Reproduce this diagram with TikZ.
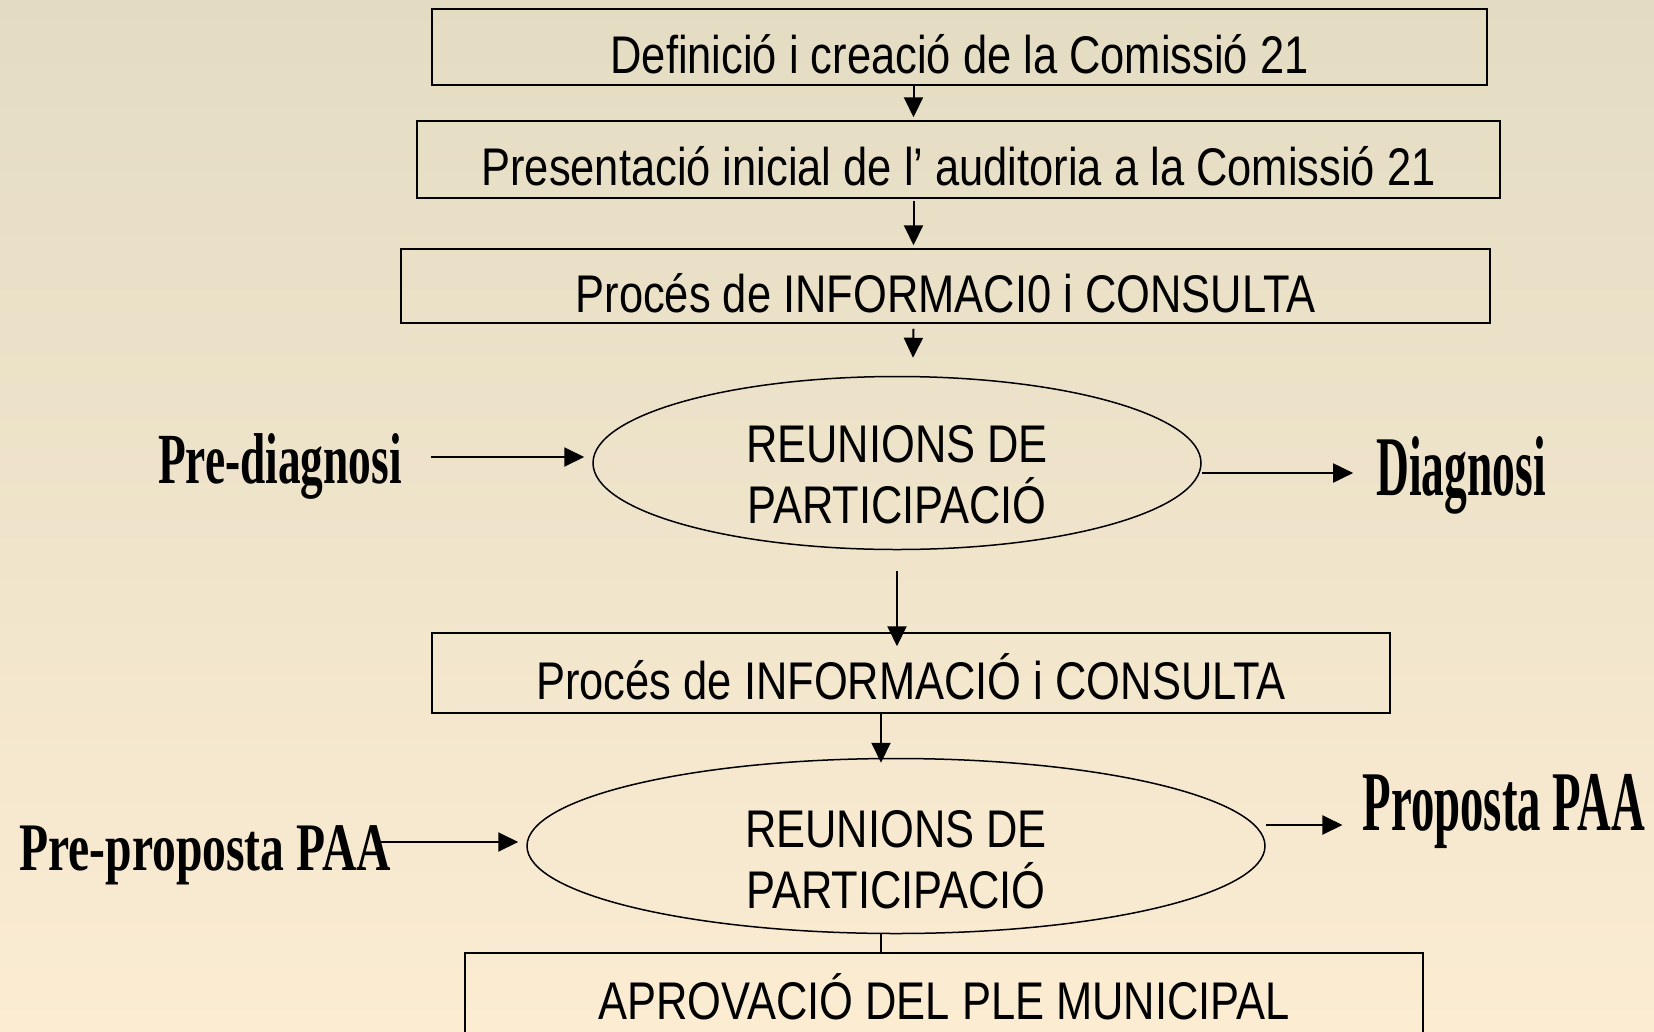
\documentclass[tikz,border=0pt]{standalone}
\usepackage{fontspec}
\setmainfont{Liberation Sans}[FakeStretch=0.82]
\newfontfamily\artfont{Liberation Serif}
\usetikzlibrary{shapes.geometric}
\usetikzlibrary{arrows.meta}

\definecolor{bgtop}{RGB}{227,220,195}
\definecolor{bgmid}{RGB}{242,234,212}
\definecolor{bgbot}{RGB}{251,236,210}

\tikzset{
  stage/.style={draw, line width=1.5pt, inner sep=0pt, text height=52pt, text depth=0pt,
    font=\fontsize{53}{61}\selectfont},
  meeting/.style={draw, ellipse, line width=1.5pt, inner sep=0pt},
  meettext/.style={align=center, inner sep=0pt, font=\fontsize{53}{61}\selectfont},
  wordart/.style={inner sep=0pt, font=\artfont\bfseries\fontsize{#1}{#1}\selectfont},
  arr/.style={-{Triangle[length=20pt,width=19pt]}, line width=2pt}
}

\begin{document}
\begin{tikzpicture}[x=1pt,y=-1pt]
\useasboundingbox (0,0) rectangle (1654,1031);
\shade [top color=bgtop, middle color=bgmid, bottom color=bgbot] (0,0) rectangle (1654,1031);
\clip (0,0) rectangle (1654,1031);

% steps
\node [stage, minimum width=1055pt, minimum height=76pt] (defin) at (959.5,47) {Definició i creació de la Comissió 21};
\node [stage, minimum width=1083pt, minimum height=77pt] (pres) at (958.5,159.5) {Presentació inicial de l’ auditoria a la Comissió 21};
\node [stage, minimum width=1089pt, minimum height=74pt] (info1) at (945.5,286) {Procés de INFORMACI0 i CONSULTA};
\node [meeting, minimum width=608pt, minimum height=173pt] (meet1) at (897,463) {};
\node [meettext] (meet1txt) at (897,475) {REUNIONS DE\\PARTICIPACIÓ};
\node [stage, minimum width=958pt, minimum height=80pt] (info2) at (911,673) {Procés de INFORMACIÓ i CONSULTA};
\node [meeting, minimum width=738pt, minimum height=175pt] (meet2) at (896,846) {};
\node [meettext] (meet2txt) at (896,860) {REUNIONS DE\\PARTICIPACIÓ};
\node [stage, minimum width=958pt, minimum height=80pt] (ple) at (944,993) {APROVACIÓ DEL PLE MUNICIPAL};

% inputs and outputs
\node [wordart=72] (prediag) at (280,466) {\scalebox{0.63}[1]{Pre-diagnosi}};
\node [wordart=85] (diag) at (1461,475) {\scalebox{0.535}[1]{Diagnosi}};
\node [wordart=68] (preprop) at (205,855) {\scalebox{0.70}[1]{Pre-proposta PAA}};
\node [wordart=85] (prop) at (1504,811) {\scalebox{0.55}[1]{Proposta PAA}};

% arrows down
\draw [arr] ([xshift=-46pt]defin.south) -- ([xshift=-45pt,yshift=3pt]pres.north);
\draw [arr] ([xshift=-45pt,yshift=-2pt]pres.south) -- ([xshift=-32pt,yshift=3pt]info1.north);
\draw [arr] ([xshift=-32pt,yshift=-5pt]info1.south) -- ([xshift=16pt,yshift=18pt]meet1.north);
\draw [arr] ([yshift=-21pt]meet1.south) -- ([yshift=-14pt]meet1.south |- info2.north);
\draw [arr] ([xshift=-30pt]info2.south) -- ([xshift=-30pt,yshift=-5pt]info2.south |- meet2.north);
\draw [line width=1.5pt] ([xshift=-15pt]meet2.south) -- ([xshift=-15pt]meet2.south |- ple.north);

% arrows sideways
\draw [arr] ([xshift=29pt,yshift=9pt]prediag.east) -- ([xshift=-8pt,yshift=6pt]meet1.west);
\draw [arr] ([yshift=-10pt]meet1.east) -- ([xshift=-23pt,yshift=2pt]diag.west);
\draw [arr] ([xshift=-10pt,yshift=13pt]preprop.east) -- ([xshift=-8pt,yshift=4pt]meet2.west);
\draw [arr] ([yshift=21pt]meet2.east) -- ([xshift=-20pt,yshift=-14pt]prop.west);
\end{tikzpicture}
\end{document}
